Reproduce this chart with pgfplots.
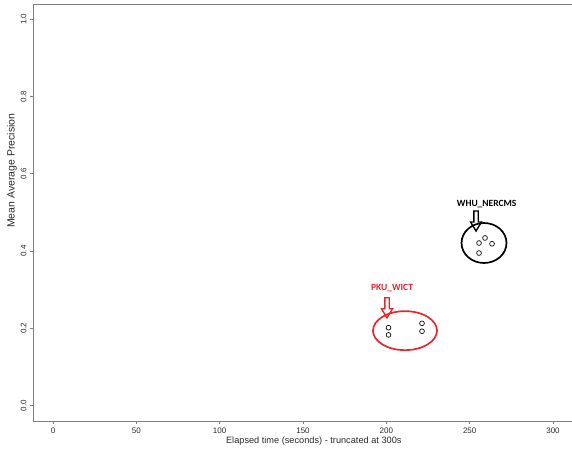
\documentclass[border=0pt]{standalone}
\usepackage{pgfplots}
\pgfplotsset{compat=1.18}
\usepackage{fontspec}
\setmainfont{Liberation Sans}
\newfontfamily\annfont{Carlito}
\definecolor{axgray}{HTML}{808080}
\definecolor{txtgray}{HTML}{2A2A2A}
\definecolor{annred}{HTML}{E8262B}
\begin{document}
\begin{tikzpicture}
\begin{axis}[
  scale only axis,
  width=540pt, height=417pt,
  xmin=-12, xmax=312, ymin=-0.04, ymax=1.04,
  axis x line*=bottom, axis y line*=left,
  axis line style={axgray, line width=0.8pt},
  tick style={axgray, line width=0.8pt},
  tick align=outside,
  major tick length=3pt,
  xtick={0,50,...,300},
  ytick={0,0.2,0.4,0.6,0.8,1.0},
  yticklabels={0.0,0.2,0.4,0.6,0.8,1.0},
  /pgf/number format/assume math mode=true,
  ticklabel style={font=\fontsize{8}{9}\selectfont, text=txtgray},
  yticklabel style={rotate=90, anchor=south},
  xlabel={Elapsed time (seconds) - truncated at 300s},
  ylabel={Mean Average Precision},
  every axis x label/.style={at={(axis description cs:0.52,0)}, yshift=-20pt, anchor=center, font=\fontsize{9.2}{11}\selectfont, text=txtgray},
  every axis y label/.style={at={(axis description cs:0,0.6)}, xshift=-21pt, rotate=90, anchor=center, font=\fontsize{10.5}{12}\selectfont, text=txtgray},
  clip=false,
]
\draw[axgray, line width=0.8pt] (rel axis cs:0,1) -- (rel axis cs:1,1);
% PKU_WICT runs
\addplot[only marks, mark=o, mark size=2.4pt, mark options={black, line width=0.65pt}] coordinates {
  (201.3,0.2016) (201.3,0.183) (221.4,0.213) (221.4,0.1925)
};
% WHU_NERCMS runs
\addplot[only marks, mark=o, mark size=2.4pt, mark options={black, line width=0.65pt}] coordinates {
  (255.6,0.421) (259.2,0.434) (263.4,0.419) (255.6,0.395)
};
% annotations
\draw[annred, line width=1.7pt] (axis cs:211.2,0.194) ellipse [x radius=32pt, y radius=19.5pt];
\draw[black, line width=1.7pt] (axis cs:258.6,0.421) ellipse [x radius=22.5pt, y radius=20pt];
\draw[annred, line width=1.4pt, shift={(axis cs:200.4,0.2791)}]
  (-2.2pt,0pt) -- (-2.2pt,-11pt) -- (-5.5pt,-11pt) -- (0pt,-20pt) -- (5.5pt,-11pt) -- (2.2pt,-11pt) -- (2.2pt,0pt) -- cycle;
\draw[black, line width=1.4pt, shift={(axis cs:253.8,0.5039)}]
  (-2.2pt,0pt) -- (-2.2pt,-11pt) -- (-5.5pt,-11pt) -- (0pt,-20pt) -- (5.5pt,-11pt) -- (2.2pt,-11pt) -- (2.2pt,0pt) -- cycle;
\node[text=annred, font=\annfont\bfseries\fontsize{9.5}{10}\selectfont] at (axis cs:203.4,0.305) {PKU\_WICT};
\node[text=black, font=\annfont\bfseries\fontsize{9.5}{10}\selectfont] at (axis cs:260.2,0.522) {WHU\_NERCMS};
\end{axis}
\pgfresetboundingbox
\path[use as bounding box] ([xshift=-33pt,yshift=-33pt]current axis.south west) rectangle ([xshift=539pt,yshift=4pt]current axis.north west);
\end{tikzpicture}
\end{document}
